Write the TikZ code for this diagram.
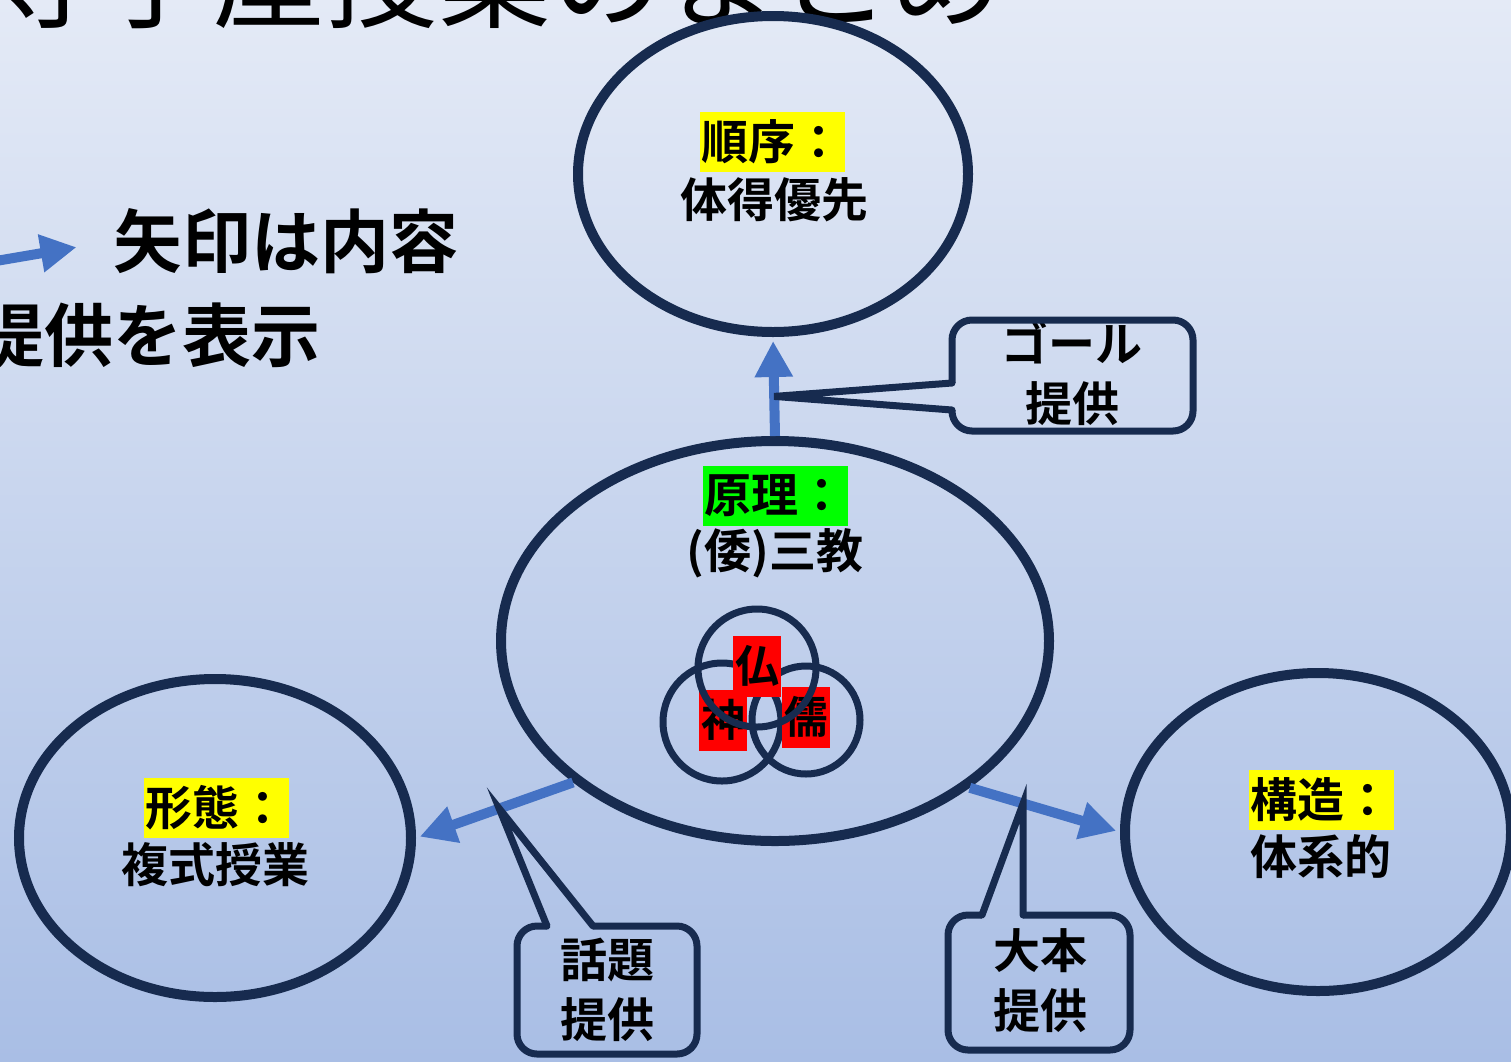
\documentclass[tikz,border=0pt]{standalone}
\usepackage{fontspec}
\setmainfont{Noto Sans CJK JP}[BoldFont={Noto Sans CJK JP Bold}]
\usetikzlibrary{shapes.geometric,arrows.meta,calc}
\definecolor{navy}{HTML}{172B4F}
\definecolor{arrowblue}{HTML}{4472C4}
\definecolor{bgtop}{HTML}{E4EAF6}
\definecolor{bgbot}{HTML}{A9BEE5}
\definecolor{hlyellow}{HTML}{FFFF00}
\definecolor{hlgreen}{HTML}{00FF00}
\definecolor{hlred}{HTML}{FF0000}
\begin{document}
\begin{tikzpicture}[x=1pt,y=-1pt,
  oval/.style={ellipse, draw=navy, line width=10pt, inner sep=0pt},
  ring/.style={circle, draw=navy, line width=7pt, inner sep=0pt},
  lbl/.style={font=\bfseries\fontsize{47}{60}\selectfont, inner sep=0pt, text=black, align=center},
  hl/.style={lbl, minimum width=145pt, minimum height=60pt},
  flow/.style={draw=arrowblue, line width=10pt, -{Triangle[length=36pt,width=36pt]}, shorten >=4pt},
  callout/.style={draw=navy, line width=7pt},
  kanji/.style={font=\bfseries\fontsize{44}{50}\selectfont, fill=hlred, inner sep=0pt, minimum width=48pt, minimum height=61pt},
  legend/.style={font=\bfseries\fontsize{69}{69}\selectfont, inner sep=0pt}
]
\useasboundingbox (0,0) rectangle (1511,1061);
\clip (0,0) rectangle (1511,1061);
\shade[top color=bgtop, bottom color=bgbot] (0,0) rectangle (1511,1061);

% title (cut off at top)
\node[anchor=base west, font=\fontsize{113}{113}\selectfont, inner sep=0pt] (title) at (-14,19) {寺子屋授業のまとめ};

% legend
\node[legend, anchor=west] (leg1) at (113,241) {矢印は内容};
\node[legend, anchor=east] (leg2) at (321,335) {提供を表示};
\coordinate (legs) at (-10,262);
\draw[flow, shorten >=37pt] (legs) -- (leg1.west);

% ellipses
\node[oval, minimum width=390pt, minimum height=316pt] (top) at (773,174) {};
\node[oval, minimum width=548pt, minimum height=400pt] (cen) at (775,641) {};
\node[oval, minimum width=392pt, minimum height=318pt] (lft) at (215,838) {};
\node[oval, minimum width=386pt, minimum height=318pt] (rgt) at (1318,832) {};

% labels
\node[hl, fill=hlyellow] (topk) at (772,142) {順序：};
\node[lbl] (topv) at (774,200) {体得優先};
\node[hl, fill=hlgreen] (cenk) at (775,496) {原理：};
\node[lbl] (cenv) at (775,553) {(倭)三教};
\node[hl, fill=hlyellow] (lftk) at (216,808) {形態：};
\node[lbl] (lftv) at (215,865) {複式授業};
\node[hl, fill=hlyellow] (rgtk) at (1321,800) {構造：};
\node[lbl] (rgtv) at (1321,857) {体系的};

% three teachings
\node[ring, minimum size=118pt] (rl) at (722,722) {};
\node[ring, minimum size=108pt] (rr) at (806,720) {};
\node[kanji] (bu) at (757,666) {仏};
\node[kanji] (shin) at (723,720) {神};
\node[kanji] (ju) at (806,717) {儒};
\node[ring, minimum size=118pt] (rt) at (757,668) {};

% arrows
\draw[flow] (cen.north) -- coordinate[pos=0.4] (tA) (top.south);
\draw[flow] (cen.215.9) -- coordinate[pos=0.47] (tB) (lft.east);
\draw[flow] (cen.323.9) -- coordinate[pos=0.355] (tC) (rgt.west);

% callout: goal
\node[lbl] (goal) at (1072,373) {ゴール\\提供};
\draw[callout, rounded corners=20pt] (952,410) -- (952,431) -- (1193,431) -- (1193,320) -- (952,320) -- (952,383);
\draw[callout, line cap=round] (952,383) -- (tA) -- (952,410);

% callout: topic
\node[lbl] (topic) at (607,990) {話題\\提供};
\draw[callout, rounded corners=20pt] (593,926) -- (697,926) -- (697,1054) -- (517,1054) -- (517,926) -- (547,926);
\draw[callout, line cap=round] (547,926) -- (tB) -- (593,926);

% callout: textbook
\node[lbl] (book) at (1040,981) {大本\\提供};
\draw[callout, rounded corners=20pt] (1023,915) -- (1130,915) -- (1130,1050) -- (948,1050) -- (948,915) -- (982,915);
\draw[callout, line cap=round] (982,915) -- (tC) -- (1023,915);
\end{tikzpicture}
\end{document}
